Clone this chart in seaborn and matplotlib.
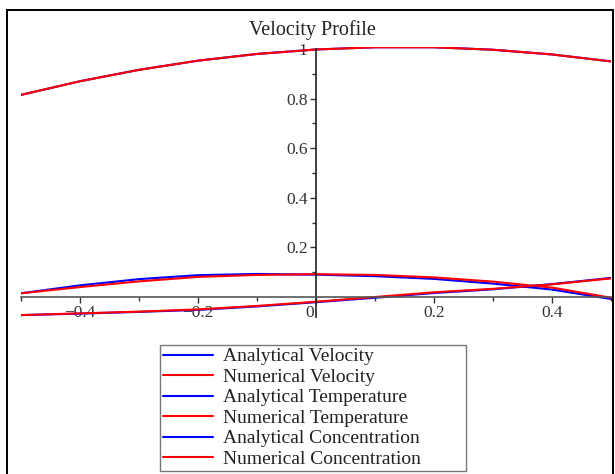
import numpy as np
import pandas as pd
import matplotlib
matplotlib.use("Agg")
import matplotlib.pyplot as plt
import matplotlib.transforms as mtransforms
import seaborn as sns
from matplotlib.patches import Rectangle
from matplotlib.ticker import MultipleLocator, FixedLocator

# ---- data ----
x_vals = [-0.5, -0.4, -0.3, -0.2, -0.1, 0.0, 0.1, 0.2, 0.3, 0.4, 0.5]

vel_analytical = [0.815, 0.870, 0.916, 0.953, 0.980, 0.998, 1.007, 1.007, 0.997, 0.978, 0.950]
vel_numerical  = [0.815, 0.870, 0.916, 0.953, 0.980, 0.998, 1.007, 1.007, 0.997, 0.978, 0.950]

temp_analytical = [0.015, 0.047, 0.072, 0.088, 0.093, 0.090, 0.084, 0.073, 0.054, 0.030, -0.008]
temp_numerical  = [0.015, 0.040, 0.063, 0.081, 0.089, 0.092, 0.089, 0.079, 0.062, 0.038, -0.003]

conc_analytical = [-0.073, -0.067, -0.060, -0.052, -0.038, -0.021, -0.003, 0.016, 0.031, 0.052, 0.077]
conc_numerical  = [-0.073, -0.066, -0.059, -0.050, -0.036, -0.019, 0.000, 0.019, 0.033, 0.051, 0.075]

labels = ["Analytical Velocity", "Numerical Velocity",
          "Analytical Temperature", "Numerical Temperature",
          "Analytical Concentration", "Numerical Concentration"]
colors = ["#0000ff", "#ff0000", "#0000ff", "#ff0000", "#0000ff", "#ff0000"]

x_ticks = [-0.4, -0.2, 0, 0.2, 0.4]
x_tick_labels = ["\u22120.4", "\u22120.2", "0", "0.2", "0.4"]
y_ticks = [0.2, 0.4, 0.6, 0.8, 1.0]
y_tick_labels = ["0.2", "0.4", "0.6", "0.8", "1"]

series = [vel_analytical, vel_numerical, temp_analytical, temp_numerical,
          conc_analytical, conc_numerical]
frames = []
for lab, vals in zip(labels, series):
    frames.append(pd.DataFrame({"x": x_vals, "y": vals, "series": lab}))
df = pd.concat(frames, ignore_index=True)

# ---- style ----
sns.set_style("white")
plt.rcParams["font.family"] = ["Liberation Serif", "DejaVu Serif"]

W, H = 615, 474
fig = plt.figure(figsize=(W / 100, H / 100), dpi=100)

# outer border
fig.patches.append(Rectangle((7 / W, -0.05), (613 - 7) / W, 1.05 - 10 / H, transform=fig.transFigure,
                             fill=False, edgecolor="black", linewidth=1.4))

ylo, yhi = -0.08, 1.01
y0_px, ppu = 297, 248
bottom_px = y0_px - ylo * ppu
top_px = y0_px - yhi * ppu
ax = fig.add_axes([21 / W, 1 - bottom_px / H, 590 / W, (bottom_px - top_px) / H])
ax.set_facecolor("none")

sns.lineplot(data=df, x="x", y="y", hue="series", hue_order=labels,
             palette=dict(zip(labels, colors)), sort=False, estimator=None,
             linewidth=1.5, ax=ax, legend=False)

ax.set_xlim(-0.5, 0.5)
ax.set_ylim(ylo, yhi)
ax.set_xlabel("")
ax.set_ylabel("")

for s in ["top", "right"]:
    ax.spines[s].set_visible(False)
ax.spines["left"].set_position(("data", 0))
ax.spines["bottom"].set_position(("data", 0))
ax.spines["left"].set_color("#222222")
ax.spines["bottom"].set_color("#555555")
ax.spines["left"].set_linewidth(1.2)
ax.spines["bottom"].set_linewidth(1.2)
ax.spines["left"].set_bounds(-0.08, 1.0)

ax.xaxis.set_major_locator(FixedLocator(x_ticks))
ax.set_xticklabels(x_tick_labels)
ax.xaxis.set_minor_locator(MultipleLocator(0.1))
ax.yaxis.set_major_locator(FixedLocator(y_ticks))
ax.set_yticklabels(y_tick_labels)
ax.yaxis.set_minor_locator(FixedLocator([0.1, 0.3, 0.5, 0.7, 0.9]))

ax.tick_params(axis="both", which="major", direction="out", length=4, width=1,
               color="#333333", labelsize=12.5, labelcolor="#333333", pad=2, bottom=True, left=True)
ax.tick_params(axis="both", which="minor", direction="out", length=3, width=1,
               color="#333333", bottom=True, left=True)
for i, lbl in enumerate(ax.get_xticklabels()):
    lbl.set_zorder(0)
    if x_tick_labels[i] == "0":
        lbl.set_transform(lbl.get_transform() +
                          mtransforms.ScaledTranslation(-6 / 100, 0, fig.dpi_scale_trans))

fig.text(312 / W, 1 - 30 / H, "Velocity Profile", ha="center", va="center",
         fontsize=14.5, color="#222222")

handles = [plt.Line2D([], [], color=c, linewidth=1.5) for c in colors]
leg_top = 1 - 345 / H
leg_h = 125 / H
leg = fig.legend(handles, labels, loc="upper left",
                 bbox_to_anchor=(160 / W, leg_top - leg_h, 306 / W, leg_h), mode="expand",
                 fontsize=14,
                 frameon=True, fancybox=False, edgecolor="#555555",
                 handlelength=2.6, handletextpad=0.5, labelspacing=0.15,
                 borderpad=0.14, borderaxespad=0)
leg.get_frame().set_linewidth(1.0)
for t in leg.get_texts():
    t.set_color("#222222")

fig.savefig("out.png", dpi=100)
